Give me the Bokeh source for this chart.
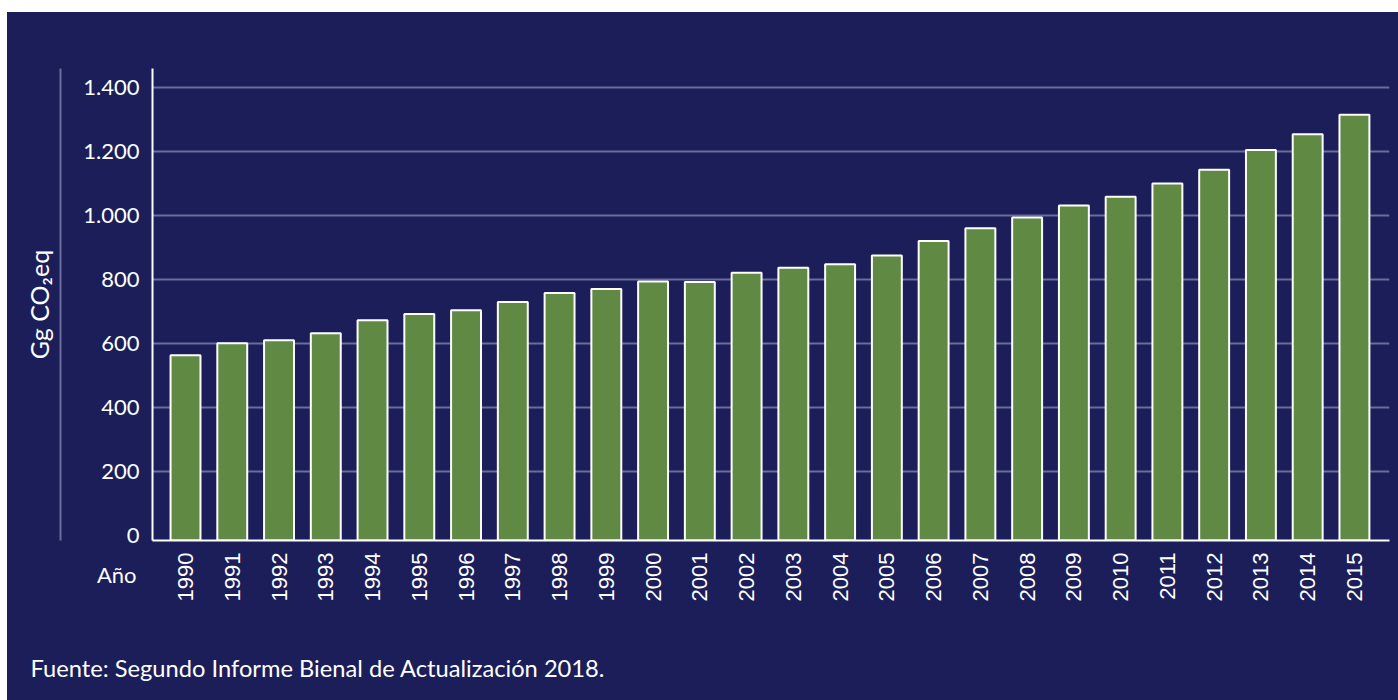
from math import pi
from bokeh.plotting import figure
from bokeh.models import FixedTicker, Label, LinearAxis
from bokeh.embed import file_html
from bokeh.resources import INLINE

# ---- data ----
YEARS = [1990, 1991, 1992, 1993, 1994, 1995, 1996, 1997, 1998, 1999, 2000,
         2001, 2002, 2003, 2004, 2005, 2006, 2007, 2008, 2009, 2010, 2011,
         2012, 2013, 2014, 2015]
EMISSIONS = [563, 601, 610, 632, 673, 692, 704, 730, 758, 770, 794,
             792, 821, 837, 848, 875, 920, 960, 994, 1031, 1059, 1100,
             1143, 1205, 1254, 1315]
Y_TICKS = [0, 200, 400, 600, 800, 1000, 1200, 1400]
Y_TICK_LABELS = ["0", "200", "400", "600", "800", "1.000", "1.200", "1.400"]
X_TICK_LABELS = [str(y) for y in YEARS]
Y_TITLE = "Gg CO₂eq"
X_TITLE = "Año"
SOURCE = "Fuente: Segundo Informe Bienal de Actualización 2018."

# ---- style ----
BG = "#1b1e58"
GREEN = "#608a43"
GRID = "#6b6d9b"
WHITE = "#ffffff"
W, H = 1391, 688
FL, FT, FR, FB = 145, 56, 1382, 528   # frame edges in figure px
X_START, X_END = YEARS[0] - 0.706, YEARS[-1] + 0.75
Y_START, Y_END = -15.6, 1459.4
OFF_X, OFF_Y = 7, 12  # page offset of the figure


def dx(page_x):
    px = page_x - OFF_X
    return X_START + (px - FL) / (FR - FL) * (X_END - X_START)


def dy(page_y):
    py = page_y - OFF_Y
    return Y_START + (FB - py) / (FB - FT) * (Y_END - Y_START)


p = figure(width=W, height=H, output_backend="svg", toolbar_location=None,
           x_range=(X_START, X_END), y_range=(Y_START, Y_END),
           min_border_left=FL, min_border_right=W - FR,
           min_border_top=FT, min_border_bottom=H - FB)
p.margin = (OFF_Y, 0, 0, OFF_X)
p.styles = {"background-color": BG}
p.background_fill_color = BG
p.border_fill_color = BG
p.outline_line_color = None

p.vbar(x=YEARS, top=EMISSIONS, bottom=Y_START, width=0.64,
       fill_color=GREEN, line_color=WHITE, line_width=2)

# y axis
ya = p.yaxis[0]
ya.ticker = FixedTicker(ticks=Y_TICKS)
ya.major_label_overrides = dict(zip(Y_TICKS, Y_TICK_LABELS))
ya.axis_line_color = WHITE
ya.axis_line_width = 2
ya.major_tick_line_color = None
ya.minor_tick_line_color = None
ya.major_label_standoff = 7
ya.major_label_text_color = WHITE
ya.major_label_text_font = "Lato"
ya.major_label_text_font_size = "22px"
ya.axis_label = "\u00a0"          # spacing only
ya.axis_label_text_font_size = "10px"
ya.axis_label_standoff = 6

# outer rule with the axis title
outer = LinearAxis(ticker=FixedTicker(ticks=[]))
outer.axis_line_color = GRID
outer.axis_line_width = 2
outer.major_tick_line_color = None
outer.minor_tick_line_color = None
outer.axis_label = Y_TITLE
outer.axis_label_standoff = 7
outer.axis_label_text_color = WHITE
outer.axis_label_text_font = "Lato"
outer.axis_label_text_font_style = "normal"
outer.axis_label_text_font_size = "25px"
p.add_layout(outer, "left")

# x axis
p.xaxis.ticker = FixedTicker(ticks=YEARS)
p.xaxis.major_label_overrides = dict(zip(YEARS, X_TICK_LABELS))
p.xaxis.major_label_orientation = pi / 2
p.xaxis.axis_line_color = WHITE
p.xaxis.axis_line_width = 2
p.xaxis.major_tick_line_color = None
p.xaxis.minor_tick_line_color = None
p.xaxis.major_label_standoff = 6
p.xaxis.major_label_text_color = WHITE
p.xaxis.major_label_text_font = "Liberation Sans"
p.xaxis.major_label_text_font_size = "22px"

# grid
p.xgrid.grid_line_color = None
p.ygrid.ticker = FixedTicker(ticks=Y_TICKS[1:])
p.ygrid.grid_line_color = GRID
p.ygrid.grid_line_width = 2

# texts outside the frame live in the bottom panel (not clipped there)
p.add_layout(Label(x=dx(136), y=dy(574), text=X_TITLE,
                   text_align="right", text_baseline="alphabetic",
                   text_color=WHITE, text_font="Lato",
                   text_font_size="22px"), "below")
p.add_layout(Label(x=dx(30), y=dy(667), text=SOURCE,
                   text_align="left", text_baseline="alphabetic",
                   text_color=WHITE, text_font="Lato",
                   text_font_size="23.7px"), "below")

open("out.html", "w").write(file_html(p, INLINE))
